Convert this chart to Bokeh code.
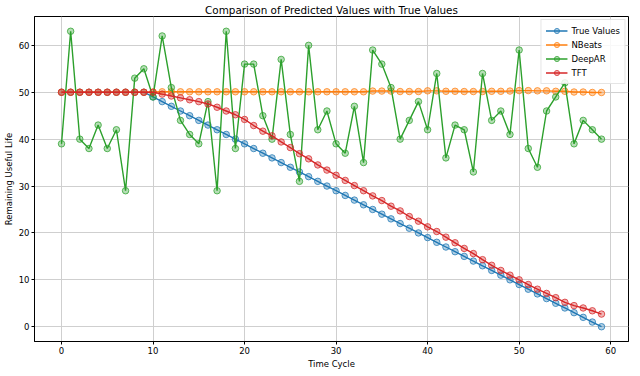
from bokeh.plotting import figure
from bokeh.models import Range1d, FixedTicker, Legend, LegendItem
from bokeh.embed import file_html
from bokeh.resources import INLINE

time_cycle = list(range(60))

true_values = [50, 50, 50, 50, 50, 50, 50, 50, 50, 50,
               49, 48, 47, 46, 45, 44, 43, 42, 41, 40,
               39, 38, 37, 36, 35, 34, 33, 32, 31, 30,
               29, 28, 27, 26, 25, 24, 23, 22, 21, 20,
               19, 18, 17, 16, 15, 14, 13, 12, 11, 10,
               9, 8, 7, 6, 5, 4, 3, 2, 1, 0]

nbeats = [50.0, 50.0, 50.0, 50.0, 50.0, 50.0, 50.0, 50.0, 50.0, 50.0,
          50.05, 50.1, 50.1, 50.1, 50.1, 50.1, 50.1, 50.1, 50.1, 50.1,
          50.1, 50.1, 50.1, 50.1, 50.1, 50.1, 50.1, 50.1, 50.1, 50.1,
          50.1, 50.1, 50.1, 50.1, 50.25, 50.25, 50.25, 50.15, 50.15, 50.15,
          50.3, 50.3, 50.2, 50.2, 50.15, 50.15, 50.15, 50.2, 50.2, 50.25,
          50.35, 50.35, 50.3, 50.3, 50.2, 50.2, 50.05, 50.05, 49.95, 49.95]

deepar = [39, 63, 40, 38, 43, 38, 42, 29, 53, 55,
          49, 62, 51, 44, 41, 39, 48, 29, 63, 38,
          56, 56, 45, 40, 57, 41, 31, 60, 42, 46,
          39, 37, 47, 35, 59, 56, 51, 40, 44, 48,
          42, 54, 36, 43, 42, 33, 54, 44, 46, 41,
          59, 38, 34, 46, 49, 52, 39, 44, 42, 40]

tft = [50.0, 50.0, 50.0, 50.0, 50.0, 50.0, 50.0, 50.0, 50.0, 50.0,
       50.0, 49.6, 49.2, 48.8, 48.4, 48.0, 47.5, 46.8, 46.0, 45.2,
       44.2, 42.9, 41.7, 40.7, 39.4, 38.2, 36.9, 35.8, 34.5, 33.4,
       32.3, 31.2, 30.1, 29.0, 27.9, 26.9, 25.7, 24.7, 23.5, 22.5,
       21.3, 20.3, 19.1, 17.9, 16.7, 15.6, 14.3, 13.1, 12.0, 11.0,
       10.0, 9.0, 8.0, 7.1, 6.2, 5.2, 4.5, 4.0, 3.4, 2.7]

series_names = ["True Values", "NBeats", "DeepAR", "TFT"]
series_colors = ["#1f77b4", "#ff7f0e", "#2ca02c", "#d62728"]
x_ticks = [0, 10, 20, 30, 40, 50, 60]
y_ticks = [0, 10, 20, 30, 40, 50, 60]

FONT = "DejaVu Sans"

p = figure(frame_width=594, frame_height=325, output_backend="svg", toolbar_location=None,
           x_range=Range1d(-2.95, 61.95), y_range=Range1d(-3.15, 66.15),
           title="Comparison of Predicted Values with True Values",
           min_border_left=0, min_border_right=2, min_border_top=0, min_border_bottom=0)

p.title.align = "center"
p.title.text_font = FONT
p.title.text_font_size = "10.4px"
p.title.text_font_style = "normal"
p.title.text_color = "black"
p.title.standoff = 2
p.title.offset = 0

items = []
for name, ys, col in zip(series_names, [true_values, nbeats, deepar, tft], series_colors):
    r1 = p.line(time_cycle, ys, line_color=col, line_width=1.4)
    r2 = p.scatter(time_cycle, ys, marker="circle", size=6.5, line_color=col,
                   line_width=1.0, line_alpha=0.75, fill_color=col, fill_alpha=0.35)
    items.append(LegendItem(label=name, renderers=[r1, r2]))

legend = Legend(items=items, location="top_right")
legend.label_text_font = FONT
legend.label_text_font_size = "8.5px"
legend.label_text_color = "black"
legend.label_height = 13
legend.glyph_height = 13
legend.glyph_width = 22
legend.label_standoff = 4
legend.spacing = 1
legend.padding = 4
legend.margin = 3
legend.border_line_color = "#cccccc"
legend.border_line_width = 1
legend.background_fill_alpha = 0.85
p.add_layout(legend)

for ax in (p.xaxis, p.yaxis):
    ax.axis_label_text_font = FONT
    ax.axis_label_text_font_size = "8.5px"
    ax.axis_label_text_font_style = "normal"
    ax.axis_label_text_color = "black"
    ax.major_label_text_font = FONT
    ax.major_label_text_font_size = "8.5px"
    ax.major_label_text_color = "black"
    ax.major_tick_in = 0
    ax.major_tick_out = 3
    ax.minor_tick_line_color = None
    ax.axis_line_color = "black"
    ax.major_tick_line_color = "black"
    ax.major_label_standoff = 2
    ax.axis_label_standoff = 2

p.xaxis.axis_label = "Time Cycle"
p.yaxis.axis_label = "Remaining Useful Life"
p.xaxis.ticker = FixedTicker(ticks=x_ticks)
p.yaxis.ticker = FixedTicker(ticks=y_ticks)

p.xgrid.grid_line_color = "#cfcfcf"
p.ygrid.grid_line_color = "#cfcfcf"
p.xgrid.grid_line_width = 1
p.ygrid.grid_line_width = 1
p.outline_line_color = "black"
p.outline_line_alpha = 1.0
p.outline_line_width = 1

open("out.html", "w").write(file_html(p, INLINE))
